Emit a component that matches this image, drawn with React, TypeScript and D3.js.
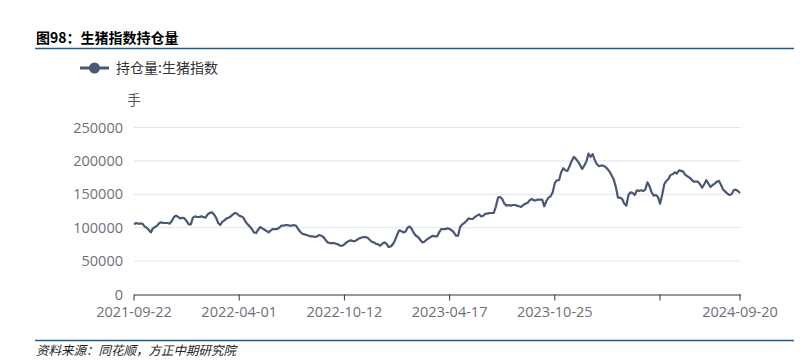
import React from "react";
import * as d3 from "d3";

// Open interest (thousand 手), sampled roughly every 2-3 trading days
const valuesK: number[] = [
  105, 107, 106, 106, 106, 102, 100, 97, 93, 99,
  101, 103, 107, 108, 107, 107, 107, 106, 110, 116,
  118, 116, 114, 115, 114, 110, 105, 105, 115, 117,
  116, 116, 117, 116, 115, 120, 122, 123, 120, 115,
  107, 104, 109, 111, 114, 115, 117, 120, 122, 121,
  118, 117, 115, 109, 105, 102, 98, 93, 92, 97,
  101, 99, 97, 95, 93, 96, 98, 98, 98, 100,
  103, 103, 104, 104, 103, 103, 104, 103, 98, 94,
  91, 90, 89, 88, 87, 87, 86, 87, 89, 88,
  86, 82, 78, 77, 77, 77, 76, 75, 73, 73,
  75, 78, 80, 81, 80, 80, 82, 84, 85, 86,
  86, 85, 82, 79, 78, 76, 75, 73, 76, 78,
  76, 71, 72, 75, 81, 89, 96, 95, 93, 94,
  100, 102, 98, 92, 88, 86, 82, 78, 79, 82,
  84, 86, 88, 87, 87, 93, 98, 98, 98, 99,
  98, 96, 93, 88, 88, 101, 105, 107, 110, 114,
  113, 113, 116, 118, 120, 117, 118, 121, 121, 122,
  122, 122, 132, 145, 146, 143, 136, 133, 134, 133,
  134, 134, 133, 132, 131, 134, 136, 137, 141, 143,
  141, 141, 142, 142, 142, 132, 140, 145, 147, 153,
  167, 171, 171, 183, 189, 186, 185, 192, 200, 206,
  203, 199, 194, 188, 193, 199, 211, 206, 210, 201,
  195, 192, 193, 193, 191, 188, 184, 178, 172, 161,
  145, 145, 143, 136, 133, 149, 153, 152, 149, 156,
  155, 156, 155, 157, 168, 162, 153, 148, 149, 146,
  136, 149, 165, 170, 173, 179, 180, 183, 181, 186,
  185, 184, 179, 177, 175, 172, 169, 169, 169, 165,
  160, 165, 171, 166, 161, 164, 166, 169, 170, 164,
  157, 154, 151, 149, 150, 156, 157, 155, 152,
];

// x-axis ticks: category index -> label ("" = tick without label)
const tickIndices: number[] = [0, 50, 100, 150, 200, 250, 288];
const tickLabels: string[] = ["2021-09-22", "2022-04-01", "2022-10-12", "2023-04-17", "2023-10-25", "", "2024-09-20"];
const yTicks: number[] = [0, 50000, 100000, 150000, 200000, 250000];

const title = "图98：生猪指数持仓量";
const legendLabel = "持仓量:生猪指数";
const unit = "手";
const source = "资料来源：同花顺，方正中期研究院";

export default function App() {
  const W = 807, H = 362;
  const values = valuesK.map((v) => v * 1000);
  const left = 134, right = 740, top = 127.5, bottom = 294.5;
  const x = d3.scaleLinear().domain([0, values.length - 1]).range([left, right]);
  const y = d3.scaleLinear().domain([0, 250000]).range([bottom, top]);
  const line = d3.line<number>().x((_, i) => x(i)).y((d) => y(d));
  const lineColor = "#4a5875";
  const cjk = "'Noto Sans CJK SC', 'Microsoft YaHei', sans-serif";
  const num = "'Open Sans', 'Noto Sans', sans-serif";
  const labelColor = "#6e7079";
  const rule = "#1e5b8f";

  return (
    <svg width={W} height={H} style={{ position: "absolute", left: 0, top: 0, background: "#fff" }}>
      <text x={36} y={43} fontFamily={cjk} fontSize={14} fontWeight="bold" fill="#000">{title}</text>
      <line x1={35} x2={794} y1={48.5} y2={48.5} stroke={rule} strokeWidth={1.5} />

      {/* legend */}
      <line x1={80} x2={109} y1={68} y2={68} stroke={lineColor} strokeWidth={3} />
      <circle cx={94.5} cy={68} r={5.5} fill={lineColor} />
      <text x={116} y={73} fontFamily={cjk} fontSize={14} fill="#333">{legendLabel}</text>

      <text x={134} y={105} fontFamily={cjk} fontSize={13.5} fill="#555" textAnchor="middle">{unit}</text>

      {/* grid + y labels */}
      {yTicks.map((t) => (
        <g key={t}>
          {t > 0 && <line x1={left} x2={right + 1} y1={y(t)} y2={y(t)} stroke="#e0e6f1" strokeWidth={1} />}
          <text x={123} y={y(t) + 5} textAnchor="end" fontFamily={num} fontSize={14.5} fill={labelColor}>{t}</text>
        </g>
      ))}

      {/* x axis */}
      <line x1={left} x2={right + 1} y1={bottom + 0.5} y2={bottom + 0.5} stroke="#333" strokeWidth={1} />
      {tickIndices.map((ti, k) => (
        <g key={ti}>
          <line x1={x(ti)} x2={x(ti)} y1={bottom} y2={bottom + 6} stroke="#333" strokeWidth={1} />
          {tickLabels[k] && (
            <text x={x(ti)} y={317} textAnchor="middle" fontFamily={num} fontSize={14.5} fill={labelColor}>{tickLabels[k]}</text>
          )}
        </g>
      ))}

      <path d={line(values) || ""} fill="none" stroke={lineColor} strokeWidth={2.2} strokeLinejoin="round" />

      <line x1={35} x2={794} y1={340.5} y2={340.5} stroke={rule} strokeWidth={1.5} />
      <text x={36} y={355} fontFamily={cjk} fontSize={12.5} fontStyle="italic" fill="#222">{source}</text>
    </svg>
  );
}
